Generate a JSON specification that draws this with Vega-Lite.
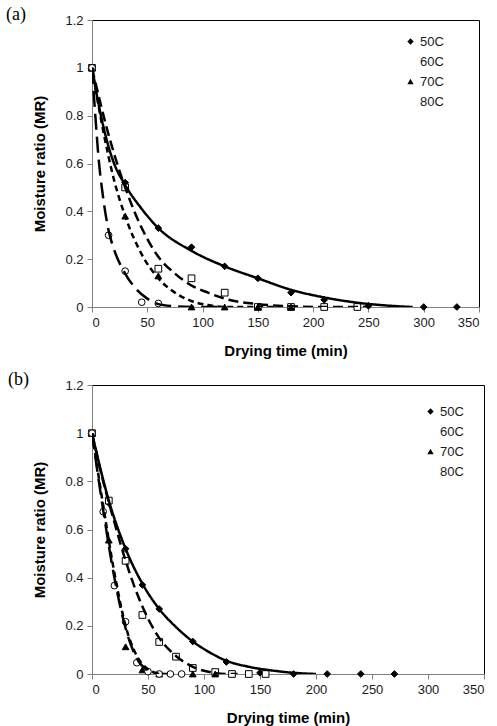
{
  "$schema": "https://vega.github.io/schema/vega-lite/v6.json",
  "background": "white",
  "padding": {"left": 5, "top": 5, "right": 5, "bottom": 0},
  "spacing": 11,
  "resolve": {"scale": {"shape": "independent", "fill": "independent", "strokeDash": "independent"}},
  "config": {
    "view": {"stroke": "black", "strokeWidth": 1},
    "axis": {"grid": false, "domainColor": "#808080", "tickColor": "#808080", "tickSize": 5, "labelFont": "Liberation Sans", "labelFontSize": 13, "labelColor": "#1a1a1a", "labelPadding": 4, "titleFont": "Liberation Sans", "titleFontSize": 15, "titleFontWeight": "bold", "titleColor": "black"},
    "legend": {"disable": false},
    "title": {"font": "Liberation Serif", "fontSize": 18, "fontWeight": "normal", "anchor": "start", "frame": "group", "color": "black"}
  },
  "datasets": {
    "curvesA": [
      {"series": "50C", "t": 0, "mr": 1}, {"series": "50C", "t": 5, "mr": 0.87}, {"series": "50C", "t": 10, "mr": 0.76}, {"series": "50C", "t": 15, "mr": 0.67}, {"series": "50C", "t": 20, "mr": 0.6}, {"series": "50C", "t": 30, "mr": 0.51}, {"series": "50C", "t": 45, "mr": 0.41}, {"series": "50C", "t": 60, "mr": 0.33}, {"series": "50C", "t": 90, "mr": 0.235}, {"series": "50C", "t": 120, "mr": 0.17}, {"series": "50C", "t": 150, "mr": 0.12}, {"series": "50C", "t": 180, "mr": 0.072}, {"series": "50C", "t": 210, "mr": 0.04}, {"series": "50C", "t": 240, "mr": 0.018}, {"series": "50C", "t": 270, "mr": 0.005}, {"series": "50C", "t": 290, "mr": 0},
      {"series": "60C", "t": 0, "mr": 1}, {"series": "60C", "t": 15, "mr": 0.72}, {"series": "60C", "t": 30, "mr": 0.5}, {"series": "60C", "t": 45, "mr": 0.33}, {"series": "60C", "t": 60, "mr": 0.21}, {"series": "60C", "t": 75, "mr": 0.14}, {"series": "60C", "t": 90, "mr": 0.09}, {"series": "60C", "t": 105, "mr": 0.06}, {"series": "60C", "t": 120, "mr": 0.035}, {"series": "60C", "t": 150, "mr": 0.012}, {"series": "60C", "t": 180, "mr": 0.003}, {"series": "60C", "t": 210, "mr": 0}, {"series": "60C", "t": 250, "mr": 0},
      {"series": "70C", "t": 0, "mr": 1}, {"series": "70C", "t": 10, "mr": 0.74}, {"series": "70C", "t": 20, "mr": 0.53}, {"series": "70C", "t": 30, "mr": 0.38}, {"series": "70C", "t": 45, "mr": 0.22}, {"series": "70C", "t": 60, "mr": 0.12}, {"series": "70C", "t": 75, "mr": 0.06}, {"series": "70C", "t": 90, "mr": 0.025}, {"series": "70C", "t": 105, "mr": 0.008}, {"series": "70C", "t": 120, "mr": 0}, {"series": "70C", "t": 180, "mr": 0},
      {"series": "80C", "t": 0, "mr": 1}, {"series": "80C", "t": 3, "mr": 0.8}, {"series": "80C", "t": 6, "mr": 0.62}, {"series": "80C", "t": 10, "mr": 0.46}, {"series": "80C", "t": 15, "mr": 0.32}, {"series": "80C", "t": 20, "mr": 0.24}, {"series": "80C", "t": 30, "mr": 0.14}, {"series": "80C", "t": 40, "mr": 0.075}, {"series": "80C", "t": 50, "mr": 0.035}, {"series": "80C", "t": 60, "mr": 0.012}, {"series": "80C", "t": 75, "mr": 0.003}, {"series": "80C", "t": 90, "mr": 0}, {"series": "80C", "t": 120, "mr": 0}
    ],
    "pointsA": [
      {"series": "50C", "t": 0, "mr": 1}, {"series": "50C", "t": 30, "mr": 0.52}, {"series": "50C", "t": 60, "mr": 0.33}, {"series": "50C", "t": 90, "mr": 0.25}, {"series": "50C", "t": 120, "mr": 0.17}, {"series": "50C", "t": 150, "mr": 0.12}, {"series": "50C", "t": 180, "mr": 0.06}, {"series": "50C", "t": 210, "mr": 0.03}, {"series": "50C", "t": 250, "mr": 0.005}, {"series": "50C", "t": 300, "mr": 0}, {"series": "50C", "t": 330, "mr": 0},
      {"series": "60C", "t": 0, "mr": 1}, {"series": "60C", "t": 30, "mr": 0.5}, {"series": "60C", "t": 60, "mr": 0.16}, {"series": "60C", "t": 90, "mr": 0.12}, {"series": "60C", "t": 120, "mr": 0.06}, {"series": "60C", "t": 150, "mr": 0}, {"series": "60C", "t": 180, "mr": 0}, {"series": "60C", "t": 210, "mr": 0}, {"series": "60C", "t": 240, "mr": 0},
      {"series": "70C", "t": 0, "mr": 1}, {"series": "70C", "t": 30, "mr": 0.38}, {"series": "70C", "t": 60, "mr": 0.13}, {"series": "70C", "t": 90, "mr": 0}, {"series": "70C", "t": 120, "mr": 0}, {"series": "70C", "t": 150, "mr": 0}, {"series": "70C", "t": 180, "mr": 0},
      {"series": "80C", "t": 0, "mr": 1}, {"series": "80C", "t": 15, "mr": 0.3}, {"series": "80C", "t": 30, "mr": 0.15}, {"series": "80C", "t": 45, "mr": 0.02}, {"series": "80C", "t": 60, "mr": 0.015}
    ],
    "curvesB": [
      {"series": "50C", "t": 0, "mr": 1}, {"series": "50C", "t": 15, "mr": 0.72}, {"series": "50C", "t": 30, "mr": 0.52}, {"series": "50C", "t": 45, "mr": 0.375}, {"series": "50C", "t": 60, "mr": 0.27}, {"series": "50C", "t": 75, "mr": 0.195}, {"series": "50C", "t": 90, "mr": 0.135}, {"series": "50C", "t": 105, "mr": 0.09}, {"series": "50C", "t": 120, "mr": 0.055}, {"series": "50C", "t": 140, "mr": 0.03}, {"series": "50C", "t": 160, "mr": 0.015}, {"series": "50C", "t": 180, "mr": 0.005}, {"series": "50C", "t": 200, "mr": 0},
      {"series": "60C", "t": 0, "mr": 1}, {"series": "60C", "t": 10, "mr": 0.8}, {"series": "60C", "t": 20, "mr": 0.63}, {"series": "60C", "t": 30, "mr": 0.47}, {"series": "60C", "t": 45, "mr": 0.28}, {"series": "60C", "t": 60, "mr": 0.15}, {"series": "60C", "t": 75, "mr": 0.075}, {"series": "60C", "t": 90, "mr": 0.03}, {"series": "60C", "t": 105, "mr": 0.008}, {"series": "60C", "t": 120, "mr": 0}, {"series": "60C", "t": 130, "mr": 0},
      {"series": "70C", "t": 0, "mr": 1}, {"series": "70C", "t": 10, "mr": 0.7}, {"series": "70C", "t": 20, "mr": 0.42}, {"series": "70C", "t": 30, "mr": 0.2}, {"series": "70C", "t": 40, "mr": 0.075}, {"series": "70C", "t": 50, "mr": 0.02}, {"series": "70C", "t": 60, "mr": 0.002}, {"series": "70C", "t": 70, "mr": 0},
      {"series": "80C", "t": 0, "mr": 1}, {"series": "80C", "t": 10, "mr": 0.68}, {"series": "80C", "t": 20, "mr": 0.4}, {"series": "80C", "t": 30, "mr": 0.19}, {"series": "80C", "t": 40, "mr": 0.065}, {"series": "80C", "t": 50, "mr": 0.015}, {"series": "80C", "t": 60, "mr": 0}
    ],
    "pointsB": [
      {"series": "50C", "t": 0, "mr": 1}, {"series": "50C", "t": 15, "mr": 0.71}, {"series": "50C", "t": 30, "mr": 0.52}, {"series": "50C", "t": 45, "mr": 0.37}, {"series": "50C", "t": 60, "mr": 0.27}, {"series": "50C", "t": 90, "mr": 0.135}, {"series": "50C", "t": 120, "mr": 0.05}, {"series": "50C", "t": 150, "mr": 0.005}, {"series": "50C", "t": 180, "mr": 0}, {"series": "50C", "t": 210, "mr": 0}, {"series": "50C", "t": 240, "mr": 0}, {"series": "50C", "t": 270, "mr": 0},
      {"series": "60C", "t": 0, "mr": 1}, {"series": "60C", "t": 15, "mr": 0.72}, {"series": "60C", "t": 30, "mr": 0.47}, {"series": "60C", "t": 45, "mr": 0.245}, {"series": "60C", "t": 60, "mr": 0.133}, {"series": "60C", "t": 75, "mr": 0.072}, {"series": "60C", "t": 90, "mr": 0.025}, {"series": "60C", "t": 110, "mr": 0.008}, {"series": "60C", "t": 125, "mr": 0}, {"series": "60C", "t": 140, "mr": 0}, {"series": "60C", "t": 155, "mr": 0},
      {"series": "70C", "t": 0, "mr": 1}, {"series": "70C", "t": 15, "mr": 0.556}, {"series": "70C", "t": 30, "mr": 0.113}, {"series": "70C", "t": 45, "mr": 0.017}, {"series": "70C", "t": 60, "mr": 0}, {"series": "70C", "t": 90, "mr": 0}, {"series": "70C", "t": 110, "mr": 0},
      {"series": "80C", "t": 0, "mr": 1}, {"series": "80C", "t": 10, "mr": 0.674}, {"series": "80C", "t": 20, "mr": 0.367}, {"series": "80C", "t": 30, "mr": 0.217}, {"series": "80C", "t": 40, "mr": 0.047}, {"series": "80C", "t": 50, "mr": 0.01}, {"series": "80C", "t": 60, "mr": 0}, {"series": "80C", "t": 70, "mr": 0}, {"series": "80C", "t": 80, "mr": 0}
    ]
  },
  "vconcat": [
    {
      "width": 387,
      "height": 287,
      "title": {"text": "(a)", "dx": -86, "offset": -19, "baseline": "middle"},
      "layer": [
        {
          "data": {"name": "pointsA"},
          "mark": {"type": "point", "filled": false, "color": "black", "stroke": "black", "strokeWidth": 1, "size": 45, "opacity": 1},
          "encoding": {
            "x": {"field": "t", "type": "quantitative", "scale": {"domain": [0, 350]}, "axis": {"values": [0, 50, 100, 150, 200, 250, 300, 350], "title": "Drying time (min)", "titlePadding": 14}},
            "y": {"field": "mr", "type": "quantitative", "scale": {"domain": [0, 1.2]}, "axis": {"values": [0, 0.2, 0.4, 0.6, 0.8, 1, 1.2], "format": "~g", "title": "Moisture ratio (MR)", "titlePadding": 17}},
            "shape": {"field": "series", "type": "nominal", "scale": {"domain": ["50C", "60C", "70C", "80C"], "range": ["diamond", "square", "triangle-up", "circle"]}, "legend": {"disable": false, "title": null, "orient": "none", "legendX": 312, "legendY": 15, "padding": 0, "labelFont": "Liberation Sans", "labelFontSize": 13, "labelColor": "#1a1a1a", "labelOffset": 3, "symbolSize": 40, "symbolStrokeColor": "black", "symbolStrokeWidth": 1, "rowPadding": 6, "encode": {"symbols": {"fill": {"condition": {"test": "datum.value === '60C' || datum.value === '80C'", "value": "white"}, "value": "black"}, "stroke": {"value": "black"}, "strokeWidth": {"value": 1}, "opacity": {"value": 1}}}}},
            "fill": {"field": "series", "type": "nominal", "scale": {"domain": ["50C", "60C", "70C", "80C"], "range": ["black", "white", "black", "white"]}, "legend": null}
          }
        },
        {
          "data": {"name": "curvesA"},
          "mark": {"type": "line", "interpolate": "monotone", "strokeWidth": 2.5, "color": "black", "clip": true},
          "encoding": {
            "x": {"field": "t", "type": "quantitative"},
            "y": {"field": "mr", "type": "quantitative"},
            "strokeDash": {"field": "series", "type": "nominal", "scale": {"domain": ["50C", "60C", "70C", "80C"], "range": [[1, 0], [10, 5], [6, 4], [16, 7]]}, "legend": null}
          }
        }
      ]
    },
    {
      "width": 392,
      "height": 289,
      "title": {"text": "(b)", "dx": -84, "offset": -19, "baseline": "middle"},
      "layer": [
        {
          "data": {"name": "pointsB"},
          "mark": {"type": "point", "filled": false, "color": "black", "stroke": "black", "strokeWidth": 1, "size": 45, "opacity": 1},
          "encoding": {
            "x": {"field": "t", "type": "quantitative", "scale": {"domain": [0, 350]}, "axis": {"values": [0, 50, 100, 150, 200, 250, 300, 350], "title": "Drying time (min)", "titlePadding": 14}},
            "y": {"field": "mr", "type": "quantitative", "scale": {"domain": [0, 1.2]}, "axis": {"values": [0, 0.2, 0.4, 0.6, 0.8, 1, 1.2], "format": "~g", "title": "Moisture ratio (MR)", "titlePadding": 17}},
            "shape": {"field": "series", "type": "nominal", "scale": {"domain": ["50C", "60C", "70C", "80C"], "range": ["diamond", "square", "triangle-up", "circle"]}, "legend": {"disable": false, "title": null, "orient": "none", "legendX": 332, "legendY": 20, "padding": 0, "labelFont": "Liberation Sans", "labelFontSize": 13, "labelColor": "#1a1a1a", "labelOffset": 3, "symbolSize": 40, "symbolStrokeColor": "black", "symbolStrokeWidth": 1, "rowPadding": 6, "encode": {"symbols": {"fill": {"condition": {"test": "datum.value === '60C' || datum.value === '80C'", "value": "white"}, "value": "black"}, "stroke": {"value": "black"}, "strokeWidth": {"value": 1}, "opacity": {"value": 1}}}}},
            "fill": {"field": "series", "type": "nominal", "scale": {"domain": ["50C", "60C", "70C", "80C"], "range": ["black", "white", "black", "white"]}, "legend": null}
          }
        },
        {
          "data": {"name": "curvesB"},
          "mark": {"type": "line", "interpolate": "monotone", "strokeWidth": 2.5, "color": "black", "clip": true},
          "encoding": {
            "x": {"field": "t", "type": "quantitative"},
            "y": {"field": "mr", "type": "quantitative"},
            "strokeDash": {"field": "series", "type": "nominal", "scale": {"domain": ["50C", "60C", "70C", "80C"], "range": [[1, 0], [10, 5], [6, 4], [16, 7]]}, "legend": null}
          }
        }
      ]
    }
  ]
}
